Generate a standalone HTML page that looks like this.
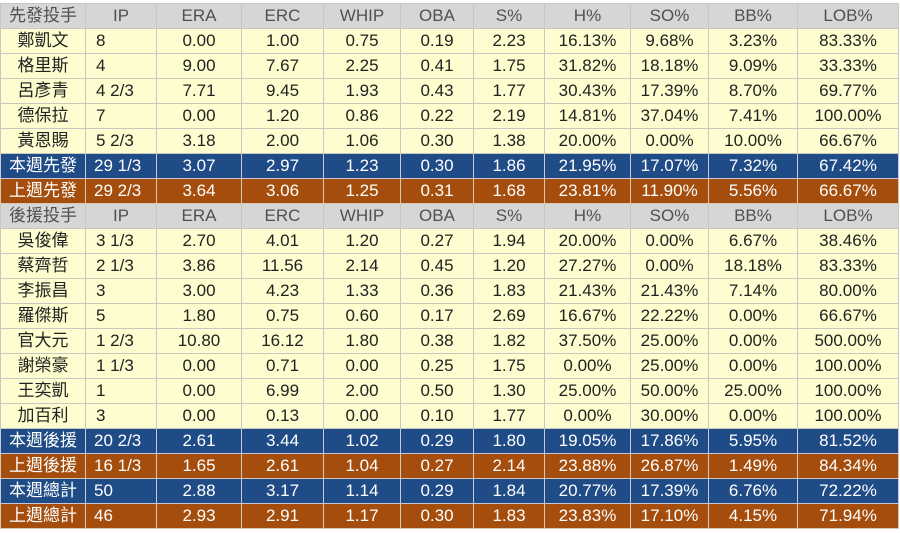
<!DOCTYPE html>
<html><head><meta charset="utf-8">
<style>
html,body{margin:0;padding:0;background:#fff;width:900px;height:533px;overflow:hidden}
table{position:absolute;left:0;top:3px;border-collapse:collapse;table-layout:fixed;width:898px;border:1px solid #555;font-family:"Liberation Sans","Noto Sans CJK TC",sans-serif;font-size:17px}
td{height:24px;padding:0;border:1px solid #c8c8c0;text-align:center;white-space:nowrap;line-height:24px;color:#222;background:#fdfdcf}
td:nth-child(2){text-align:left;padding-left:10px}
tr.h td{background:#d6d6d6;color:#505050}
tr.h td:nth-child(2){text-align:center;padding-left:0}
tr.b td{background:#1f4b86;color:#fff;border-color:#c8c8d8}
tr.o td{background:#a44d0c;color:#fff;border-color:#d8c8b8}
tr.b td:nth-child(2),tr.o td:nth-child(2){padding-left:8px}
</style></head><body>
<table>
<colgroup><col style="width:85px"><col style="width:71px"><col style="width:85px"><col style="width:82px"><col style="width:77px"><col style="width:73px"><col style="width:71px"><col style="width:86px"><col style="width:78px"><col style="width:89px"><col style="width:101px"></colgroup>
<tr class="h"><td>先發投手</td><td>IP</td><td>ERA</td><td>ERC</td><td>WHIP</td><td>OBA</td><td>S%</td><td>H%</td><td>SO%</td><td>BB%</td><td>LOB%</td></tr>
<tr><td>鄭凱文</td><td>8</td><td>0.00</td><td>1.00</td><td>0.75</td><td>0.19</td><td>2.23</td><td>16.13%</td><td>9.68%</td><td>3.23%</td><td>83.33%</td></tr>
<tr><td>格里斯</td><td>4</td><td>9.00</td><td>7.67</td><td>2.25</td><td>0.41</td><td>1.75</td><td>31.82%</td><td>18.18%</td><td>9.09%</td><td>33.33%</td></tr>
<tr><td>呂彥青</td><td>4 2/3</td><td>7.71</td><td>9.45</td><td>1.93</td><td>0.43</td><td>1.77</td><td>30.43%</td><td>17.39%</td><td>8.70%</td><td>69.77%</td></tr>
<tr><td>德保拉</td><td>7</td><td>0.00</td><td>1.20</td><td>0.86</td><td>0.22</td><td>2.19</td><td>14.81%</td><td>37.04%</td><td>7.41%</td><td>100.00%</td></tr>
<tr><td>黃恩賜</td><td>5 2/3</td><td>3.18</td><td>2.00</td><td>1.06</td><td>0.30</td><td>1.38</td><td>20.00%</td><td>0.00%</td><td>10.00%</td><td>66.67%</td></tr>
<tr class="b"><td>本週先發</td><td>29 1/3</td><td>3.07</td><td>2.97</td><td>1.23</td><td>0.30</td><td>1.86</td><td>21.95%</td><td>17.07%</td><td>7.32%</td><td>67.42%</td></tr>
<tr class="o"><td>上週先發</td><td>29 2/3</td><td>3.64</td><td>3.06</td><td>1.25</td><td>0.31</td><td>1.68</td><td>23.81%</td><td>11.90%</td><td>5.56%</td><td>66.67%</td></tr>
<tr class="h"><td>後援投手</td><td>IP</td><td>ERA</td><td>ERC</td><td>WHIP</td><td>OBA</td><td>S%</td><td>H%</td><td>SO%</td><td>BB%</td><td>LOB%</td></tr>
<tr><td>吳俊偉</td><td>3 1/3</td><td>2.70</td><td>4.01</td><td>1.20</td><td>0.27</td><td>1.94</td><td>20.00%</td><td>0.00%</td><td>6.67%</td><td>38.46%</td></tr>
<tr><td>蔡齊哲</td><td>2 1/3</td><td>3.86</td><td>11.56</td><td>2.14</td><td>0.45</td><td>1.20</td><td>27.27%</td><td>0.00%</td><td>18.18%</td><td>83.33%</td></tr>
<tr><td>李振昌</td><td>3</td><td>3.00</td><td>4.23</td><td>1.33</td><td>0.36</td><td>1.83</td><td>21.43%</td><td>21.43%</td><td>7.14%</td><td>80.00%</td></tr>
<tr><td>羅傑斯</td><td>5</td><td>1.80</td><td>0.75</td><td>0.60</td><td>0.17</td><td>2.69</td><td>16.67%</td><td>22.22%</td><td>0.00%</td><td>66.67%</td></tr>
<tr><td>官大元</td><td>1 2/3</td><td>10.80</td><td>16.12</td><td>1.80</td><td>0.38</td><td>1.82</td><td>37.50%</td><td>25.00%</td><td>0.00%</td><td>500.00%</td></tr>
<tr><td>謝榮豪</td><td>1 1/3</td><td>0.00</td><td>0.71</td><td>0.00</td><td>0.25</td><td>1.75</td><td>0.00%</td><td>25.00%</td><td>0.00%</td><td>100.00%</td></tr>
<tr><td>王奕凱</td><td>1</td><td>0.00</td><td>6.99</td><td>2.00</td><td>0.50</td><td>1.30</td><td>25.00%</td><td>50.00%</td><td>25.00%</td><td>100.00%</td></tr>
<tr><td>加百利</td><td>3</td><td>0.00</td><td>0.13</td><td>0.00</td><td>0.10</td><td>1.77</td><td>0.00%</td><td>30.00%</td><td>0.00%</td><td>100.00%</td></tr>
<tr class="b"><td>本週後援</td><td>20 2/3</td><td>2.61</td><td>3.44</td><td>1.02</td><td>0.29</td><td>1.80</td><td>19.05%</td><td>17.86%</td><td>5.95%</td><td>81.52%</td></tr>
<tr class="o"><td>上週後援</td><td>16 1/3</td><td>1.65</td><td>2.61</td><td>1.04</td><td>0.27</td><td>2.14</td><td>23.88%</td><td>26.87%</td><td>1.49%</td><td>84.34%</td></tr>
<tr class="b"><td>本週總計</td><td>50</td><td>2.88</td><td>3.17</td><td>1.14</td><td>0.29</td><td>1.84</td><td>20.77%</td><td>17.39%</td><td>6.76%</td><td>72.22%</td></tr>
<tr class="o"><td>上週總計</td><td>46</td><td>2.93</td><td>2.91</td><td>1.17</td><td>0.30</td><td>1.83</td><td>23.83%</td><td>17.10%</td><td>4.15%</td><td>71.94%</td></tr>
</table>
</body></html>
